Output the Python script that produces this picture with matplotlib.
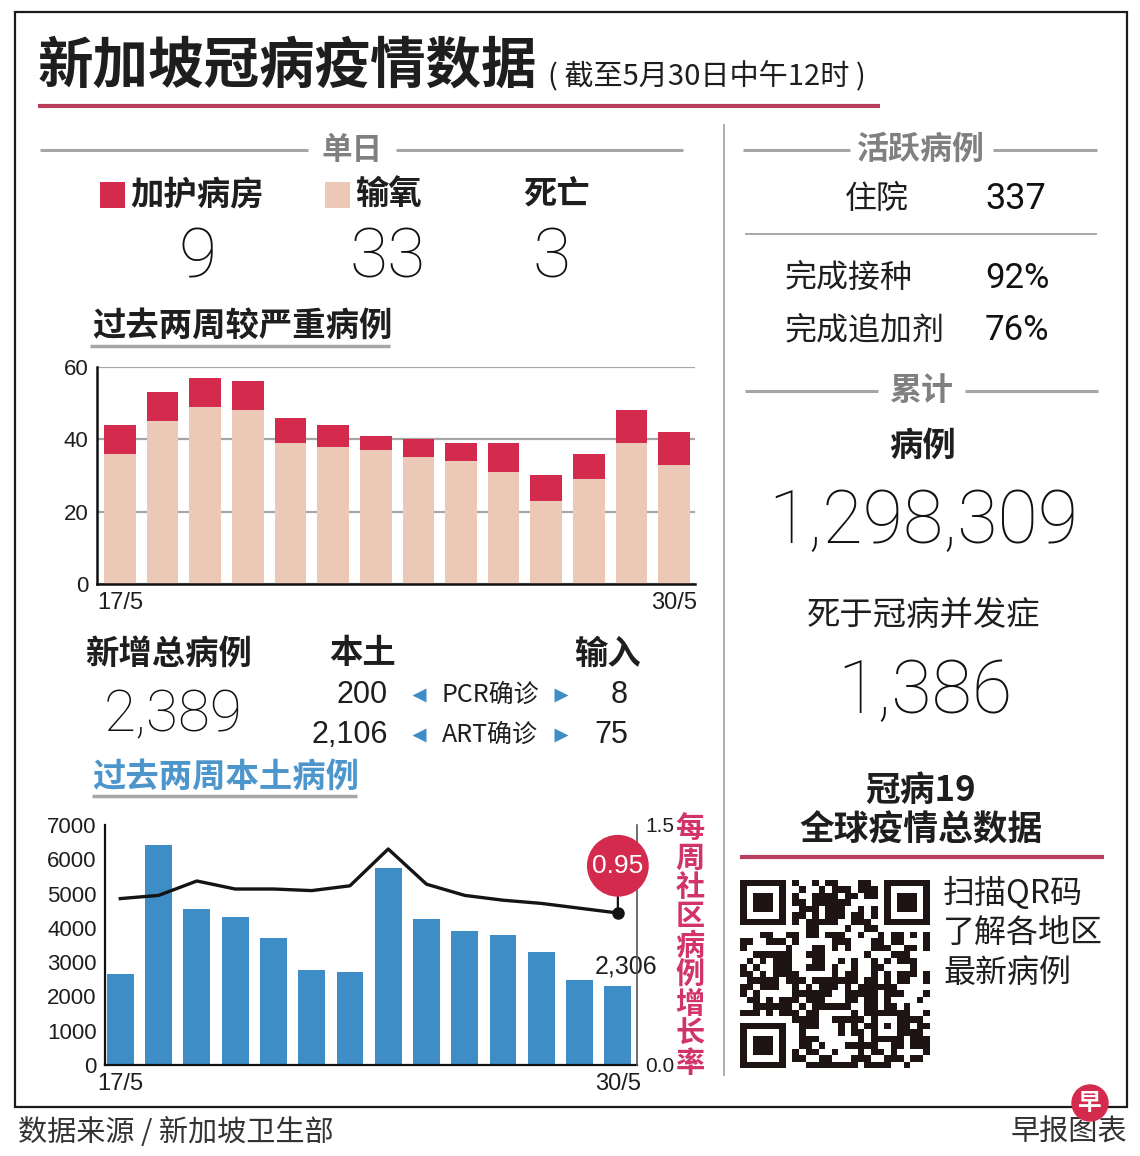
import matplotlib
matplotlib.use('Agg')
import matplotlib.pyplot as plt
from matplotlib import font_manager
from matplotlib.patches import Rectangle, Circle
from matplotlib.colors import ListedColormap
import numpy as np

# ---------------- data ----------------
dates = ['17/5', '18/5', '19/5', '20/5', '21/5', '22/5', '23/5',
         '24/5', '25/5', '26/5', '27/5', '28/5', '29/5', '30/5']
icu = [8, 8, 8, 8, 7, 6, 4, 5, 5, 8, 7, 7, 9, 9]
oxygen = [36, 45, 49, 48, 39, 38, 37, 35, 34, 31, 23, 29, 39, 33]
local_cases = [2650, 6430, 4560, 4320, 3700, 2780, 2720, 5750, 4260, 3920, 3790, 3310, 2490, 2306]
growth_rate = [1.04, 1.06, 1.15, 1.10, 1.10, 1.09, 1.12, 1.35, 1.13, 1.06, 1.03, 1.01, 0.98, 0.95]
severe_yticks = [0, 20, 40, 60]
local_yticks = [0, 1000, 2000, 3000, 4000, 5000, 6000, 7000]
rate_yticks = [0.0, 1.5]

today_icu = 9
today_oxygen = 33
today_deaths = 3
new_total = 2389
local_pcr, local_art = 200, 2106
import_pcr, import_art = 8, 75
hospitalised = 337
vaccinated_pct = 92
booster_pct = 76
cum_cases = 1298309
cum_deaths = 1386

# ---------------- style ----------------
W, H = 1140, 1156
CJK = 'Noto Sans CJK SC'
names = {f.name for f in font_manager.fontManager.ttflist}
NUM = 'Liberation Sans Narrow' if 'Liberation Sans Narrow' in names else 'Liberation Sans'
BIG = 'Liberation Sans Narrow' if 'Liberation Sans Narrow' in names else 'Roboto'
plt.rcParams['font.family'] = [CJK, 'DejaVu Sans']

RED = '#d42a4e'
PINK = '#ecc8b6'
BLUE = '#3f8dc6'
LBLUE = '#4d96cc'
GRAYT = '#808080'
GRAYL = '#a6a6a6'
LINE_RED = '#b8405c'
AXIS_RED = '#d2336a'
TXT = '#1e1e1e'

fig = plt.figure(figsize=(W / 100, H / 100), dpi=100, facecolor='white')
ax0 = fig.add_axes([0, 0, 1, 1])
ax0.set_xlim(0, W)
ax0.set_ylim(H, 0)
ax0.axis('off')


def frac(x0, y0, x1, y1):
    return [x0 / W, 1 - y1 / H, (x1 - x0) / W, (y1 - y0) / H]


def t(x, y, s, size, ha='left', weight='normal', color=TXT, family=None, va='center'):
    fam = [family, CJK] if family else [CJK, 'DejaVu Sans']
    ax0.text(x, y, s, fontsize=size, ha=ha, va=va, fontweight=weight, color=color,
             family=fam)


def big(x, y, s, size, ha='center', weight='light'):
    t(x, y, s, size, ha=ha, family=BIG, weight=weight, color='#111111')


def hline(x0, x1, y, color=GRAYL, lw=2.2):
    ax0.plot([x0, x1], [y, y], color=color, lw=lw, solid_capstyle='butt')


# frame
ax0.add_patch(Rectangle((15, 12), 1112, 1095, fill=False, ec='#1a1a1a', lw=1.6))

# title
t(38, 67, '新加坡冠病疫情数据', 40, weight='bold')
t(548, 76, '( 截至5月30日中午12时 )', 21)
hline(38, 880, 106, color=LINE_RED, lw=3)

# divider
ax0.plot([724, 724], [125, 1075], color='#b0b0b0', lw=1.5)

# ---- left: single day ----
t(352, 150, '单日', 22, ha='center', weight='bold', color=GRAYT)
hline(40, 308, 150)
hline(396, 683, 150)
ax0.add_patch(Rectangle((100, 182), 25, 26, color=RED, lw=0))
t(130, 195, '加护病房', 24, weight='bold')
ax0.add_patch(Rectangle((325, 182), 25, 26, color=PINK, lw=0))
t(355, 195, '输氧', 24, weight='bold')
t(556, 195, '死亡', 24, ha='center', weight='bold')
big(198, 259, f'{today_icu}', 50)
big(388, 259, f'{today_oxygen}', 50)
big(552, 259, f'{today_deaths}', 50)

t(92, 327, '过去两周较严重病例', 24, weight='bold')
hline(90, 390, 346, lw=2.5)

# top chart
x = np.arange(len(dates))
ax1 = fig.add_axes(frac(97, 367, 695, 584))
ax1.set_facecolor('none')
ax1.bar(x, oxygen, width=0.74, color=PINK, zorder=2)
ax1.bar(x, icu, bottom=oxygen, width=0.74, color=RED, zorder=2)
ax1.set_ylim(0, 60)
ax1.set_xlim(-0.54, 13.49)
ax1.set_yticks(severe_yticks)
ax1.set_yticklabels([str(v) for v in severe_yticks], family=NUM, fontsize=16, color=TXT)
ax1.set_xticks([0, len(dates) - 1])
ax1.set_xticklabels([dates[0], dates[-1]], family=NUM, fontsize=17, color=TXT)
ax1.tick_params(length=0, pad=6)
ax1.yaxis.grid(True, color=GRAYL, lw=1.6, zorder=0)
ax1.set_axisbelow(True)
for s in ['top', 'right']:
    ax1.spines[s].set_visible(False)
for s in ['left', 'bottom']:
    ax1.spines[s].set_color('#111111')
    ax1.spines[s].set_linewidth(1.8)

# new cases block
t(85, 654, '新增总病例', 24, weight='bold')
t(363, 654, '本土', 24, ha='center', weight='bold')
t(607, 654, '输入', 24, ha='center', weight='bold')
big(173, 716, f'{new_total:,}', 42)
t(388, 695, f'{local_pcr:,}', 22, ha='right', family=NUM)
t(388, 735, f'{local_art:,}', 22, ha='right', family=NUM)
t(628, 695, f'{import_pcr:,}', 22, ha='right', family=NUM)
t(628, 735, f'{import_art:,}', 22, ha='right', family=NUM)
t(442, 695, 'PCR确诊', 18)
t(442, 735, 'ART确诊', 18)
for yy in (695, 735):
    ax0.plot(419, yy, marker='<', ms=10, color=BLUE, mec='none')
    ax0.plot(561, yy, marker='>', ms=10, color=BLUE, mec='none')

t(92, 777, '过去两周本土病例', 24, weight='bold', color=LBLUE)
hline(92, 357, 796, lw=2.5)

# bottom chart
ax3 = fig.add_axes(frac(105, 825, 637, 1065))
ax3.set_facecolor('none')
ax3.bar(x, local_cases, width=0.7, color=BLUE, zorder=2)
ax3.set_ylim(0, 7000)
ax3.set_xlim(-0.4, 13.5)
ax3.set_yticks(local_yticks)
ax3.set_yticklabels([str(v) for v in local_yticks], family=NUM, fontsize=16, color=TXT)
ax3.set_xticks([0, len(dates) - 1])
ax3.set_xticklabels([dates[0], dates[-1]], family=NUM, fontsize=17, color=TXT)
ax3.tick_params(length=0, pad=6)
for s in ['top', 'right']:
    ax3.spines[s].set_visible(False)
for s in ['left', 'bottom']:
    ax3.spines[s].set_color('#111111')
    ax3.spines[s].set_linewidth(1.6)
ax3.annotate(f'{local_cases[-1]:,}', xy=(len(dates) - 1, local_cases[-1]), xytext=(6, 5),
             textcoords='offset points', ha='center', va='bottom', fontsize=18,
             family=[NUM, CJK], color=TXT)

ax4 = ax3.twinx()
ax4.set_ylim(0, 1.5)
ax4.set_xlim(-0.4, 13.5)
ax4.plot(x, growth_rate, color='#141414', lw=2.4, zorder=3)
ax4.plot(x[-1], growth_rate[-1], 'o', color='#141414', ms=8, zorder=4)
ax4.set_yticks(rate_yticks)
ax4.set_yticklabels([f'{v:.1f}' for v in rate_yticks], family=NUM, fontsize=15, color=TXT)
ax4.tick_params(length=0, pad=6)
for s in ['top', 'left', 'bottom']:
    ax4.spines[s].set_visible(False)
ax4.spines['right'].set_color('#555555')
ax4.spines['right'].set_linewidth(1.2)
ax4.annotate(f'{growth_rate[-1]:.2f}', xy=(len(dates) - 1, growth_rate[-1]), xytext=(0, 34),
             textcoords='offset points', ha='center', va='center', color='white',
             fontsize=19, family=[NUM, CJK],
             bbox=dict(boxstyle='circle,pad=0.2', fc=RED, ec='none'),
             arrowprops=dict(arrowstyle='-', color='#141414', lw=1.6, shrinkA=0, shrinkB=0))

label = '每周社区病例增长率'
for k, ch in enumerate(label):
    t(690, 828 + k * 29.4, ch, 21, ha='center', weight='bold', color=AXIS_RED)

# ---- right column ----
t(921, 150, '活跃病例', 23, ha='center', weight='bold', color=GRAYT)
hline(743, 850, 150)
hline(993, 1097, 150)
t(845, 199, '住院', 23)
big(985, 199, f'{hospitalised}', 26, ha='left', weight='normal')
hline(745, 1097, 234, color='#9a9a9a', lw=1.2)
t(785, 278, '完成接种', 23)
big(985, 278, f'{vaccinated_pct}%', 25, ha='left', weight='normal')
t(785, 330, '完成追加剂', 23)
big(985, 330, f'{booster_pct}%', 25, ha='left', weight='normal')
t(921, 391, '累计', 23, ha='center', weight='bold', color=GRAYT)
hline(745, 878, 391)
hline(965, 1098, 391)
t(922, 446, '病例', 24, ha='center', weight='bold')
big(923, 522, f'{cum_cases:,}', 53)
t(924, 615, '死于冠病并发症', 24, ha='center')
big(925, 692, f'{cum_deaths:,}', 53)
t(921, 790, '冠病19', 25, ha='center', weight='bold')
t(921, 830, '全球疫情总数据', 25, ha='center', weight='bold')
hline(740, 1104, 857, color=LINE_RED, lw=3)

# QR-like decoration
n = 29
ii, jj = np.mgrid[0:n, 0:n]
qr = ((((ii * 5 + jj * 3) ^ (ii * jj + jj)) % 7) < 4).astype(int)
for (r0, c0) in [(0, 0), (0, n - 7), (n - 7, 0)]:
    r1, c1 = max(r0 - 1, 0), max(c0 - 1, 0)
    qr[r1:min(r0 + 8, n), c1:min(c0 + 8, n)] = 0
    qr[r0:r0 + 7, c0:c0 + 7] = 1
    qr[r0 + 1:r0 + 6, c0 + 1:c0 + 6] = 0
    qr[r0 + 2:r0 + 5, c0 + 2:c0 + 5] = 1
qr[n - 9:n - 4, n - 9:n - 4] = 1
qr[n - 8:n - 5, n - 8:n - 5] = 0
qr[n - 7, n - 7] = 1
ax0.imshow(qr, cmap=ListedColormap(['white', '#1e1414']), extent=(740, 930, 1068, 880),
           interpolation='nearest', aspect='auto', zorder=2)
ax0.set_xlim(0, W)
ax0.set_ylim(H, 0)
t(943, 893, '扫描QR码', 23)
t(943, 933, '了解各地区', 23)
t(943, 973, '最新病例', 23)

# footer
t(18, 1133, '数据来源 / 新加坡卫生部', 21, color='#333333')
t(1127, 1133, '早报图表', 21, ha='right', color='#333333')
ax0.add_patch(Circle((1090, 1103), 18, color=RED, zorder=5))
ax0.text(1090, 1103, '早', fontsize=17, ha='center', va='center', color='white',
         fontweight='bold', zorder=6, family=[CJK])

fig.savefig('out.png', dpi=100, facecolor='white')
